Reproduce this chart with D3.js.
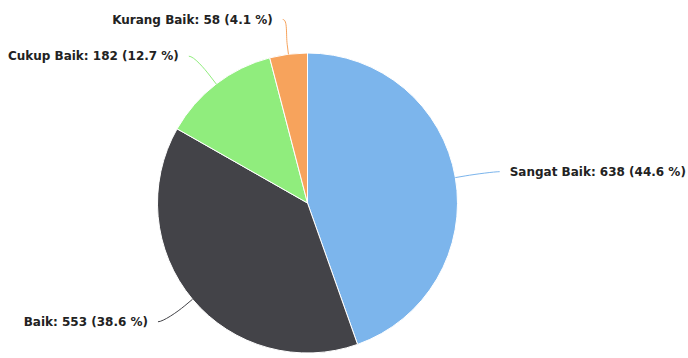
<!DOCTYPE html>
<html>
<head>
<meta charset="utf-8">
<script src="https://cdn.jsdelivr.net/npm/d3@7"></script>
<style>
  html, body { margin: 0; padding: 0; background: #ffffff; }
  svg { display: block; }
</style>
</head>
<body>
<svg id="chart" width="688" height="358"></svg>
<script>
// ---- data ----
const categories = ["Sangat Baik", "Baik", "Cukup Baik", "Kurang Baik"];
const values = [638, 553, 182, 58];
const colors = ["#7cb5ec", "#434348", "#90ed7d", "#f7a35c"];

// ---- layout ----
const W = 688, H = 358;
const cx = 307.5, cy = 203, r = 150;
const labelRx = 195;     // horizontal radius where labels anchor
const labelRy = 185;     // vertical radius where labels anchor
const breakR = r + 10;   // connector break point
const textGap = 10;

const svg = d3.select("#chart");
const total = d3.sum(values);
const data = categories.map((c, i) => ({ name: c, value: values[i], color: colors[i] }));

const pie = d3.pie().value(d => d.value).sort(null);
const arcs = pie(data);
const arc = d3.arc().innerRadius(0).outerRadius(r);

const g = svg.append("g").attr("transform", `translate(${cx},${cy})`);

g.selectAll("path.slice")
  .data(arcs)
  .enter().append("path")
  .attr("class", "slice")
  .attr("d", arc)
  .attr("fill", d => d.data.color)
  .attr("stroke", "#ffffff")
  .attr("stroke-width", 1)
  .attr("stroke-linejoin", "round");

function pt(angle, rx, ry) {
  // d3 angles: 0 at top, clockwise
  return [rx * Math.sin(angle), -(ry === undefined ? rx : ry) * Math.cos(angle)];
}

arcs.forEach(d => {
  const mid = (d.startAngle + d.endAngle) / 2;
  const right = Math.sin(mid) >= 0;
  const a = pt(mid, labelRx, labelRy);
  const b = pt(mid, breakR);
  const t = pt(mid, r);
  const c2 = [2 * b[0] - t[0], 2 * b[1] - t[1]];
  const path = d3.path();
  path.moveTo(a[0], a[1]);
  path.bezierCurveTo(a[0] + (right ? -5 : 5), a[1], c2[0], c2[1], b[0], b[1]);
  path.lineTo(t[0], t[1]);
  g.append("path")
    .attr("d", path.toString())
    .attr("fill", "none")
    .attr("stroke", d.data.color)
    .attr("stroke-width", 1);

  const pct = (d.data.value / total * 100).toFixed(1);
  g.append("text")
    .attr("x", a[0] + (right ? textGap : -textGap))
    .attr("y", a[1])
    .attr("dy", "0.35em")
    .attr("text-anchor", right ? "start" : "end")
    .attr("font-family", "'DejaVu Sans', sans-serif")
    .attr("font-weight", "bold")
    .attr("font-size", "12px")
    .attr("fill", "#222")
    .text(`${d.data.name}: ${d.data.value} (${pct} %)`);
});
</script>
</body>
</html>
